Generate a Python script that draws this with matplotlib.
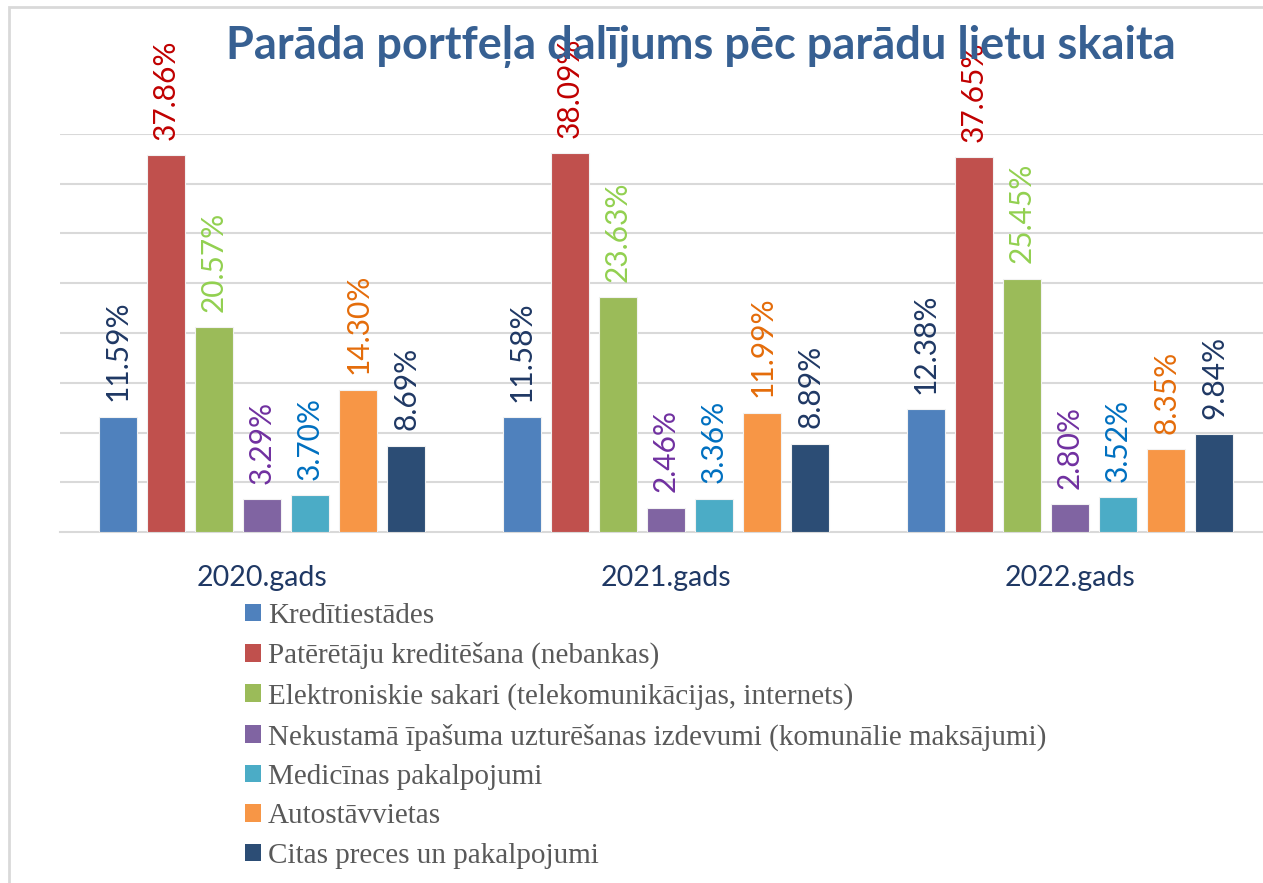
import numpy as np
import matplotlib.pyplot as plt
from matplotlib.patches import Rectangle, Patch

years = ['2020.gads', '2021.gads', '2022.gads']
series = ['Kredītiestādes',
          'Patērētāju kreditēšana (nebankas)',
          'Elektroniskie sakari (telekomunikācijas, internets)',
          'Nekustamā īpašuma uzturēšanas izdevumi (komunālie maksājumi)',
          'Medicīnas pakalpojumi',
          'Autostāvvietas',
          'Citas preces un pakalpojumi']
values = [[11.59, 11.58, 12.38],
          [37.86, 38.09, 37.65],
          [20.57, 23.63, 25.45],
          [3.29, 2.46, 2.80],
          [3.70, 3.36, 3.52],
          [14.30, 11.99, 8.35],
          [8.69, 8.89, 9.84]]

bar_colors = ['#4F81BD', '#C0504D', '#9BBB59', '#8064A2', '#4BACC6', '#F79646', '#2C4D75']
lab_colors = ['#1F3864', '#C00000', '#92D050', '#7030A0', '#0070C0', '#E46C0A', '#1F3864']

W, H = 1263, 883
fig = plt.figure(figsize=(W / 100, H / 100), dpi=100)

# chart frame
fig.patches.append(Rectangle((9 / W, -0.1), 1.2, 1.1 - 7 / H, transform=fig.transFigure,
                             fill=False, edgecolor='#D9D9D9', lw=2))

ax = fig.add_axes([60 / W, (H - 532) / H, 1212 / W, 398 / H])
ax.set_xlim(-0.5, 2.5)
ax.set_ylim(0, 40)

x = np.arange(len(years))
step = 0.119
bw = 0.094
for i, (vals, bc, lc) in enumerate(zip(values, bar_colors, lab_colors)):
    pos = x + (i - 3) * step
    ax.bar(pos, vals, width=bw, color=bc, edgecolor='#F2F2F2', linewidth=0.8, zorder=3)
    for p, v in zip(pos, vals):
        ax.annotate(f'{v:.2f}%', (p, v), xytext=(0, 11), textcoords='offset points',
                    rotation=90, ha='center', va='bottom', fontsize=21.5,
                    color=lc, family='Lato', annotation_clip=False)

ax.set_yticks(np.arange(5, 41, 5))
ax.grid(axis='y', color='#D9D9D9', lw=1.5, zorder=0)
ax.tick_params(left=False, labelleft=False, bottom=False)
for s in ['left', 'right', 'top']:
    ax.spines[s].set_visible(False)
ax.spines['bottom'].set_color('#D9D9D9')
ax.spines['bottom'].set_linewidth(1.5)
ax.set_xticks(x)
ax.set_xticklabels(years, fontsize=20.5, color='#1F3864', family='Lato')
ax.tick_params(axis='x', pad=20)

fig.text(701 / W, 1 - 47 / H, 'Parāda portfeļa dalījums pēc parādu lietu skaita',
         ha='center', va='center', fontsize=32.5, fontweight='bold', color='#376092',
         family='Lato')

handles = [Patch(facecolor=c, edgecolor='none') for c in bar_colors]
fig.legend(handles, series, loc='upper left', bbox_to_anchor=(233 / W, 1 - 591 / H),
           frameon=False, prop={'family': 'Liberation Serif', 'size': 21},
           labelcolor='#595959', handlelength=0.55, handleheight=0.55,
           handletextpad=0.25, labelspacing=0.46, borderaxespad=0)

fig.savefig('out.png', dpi=100)
